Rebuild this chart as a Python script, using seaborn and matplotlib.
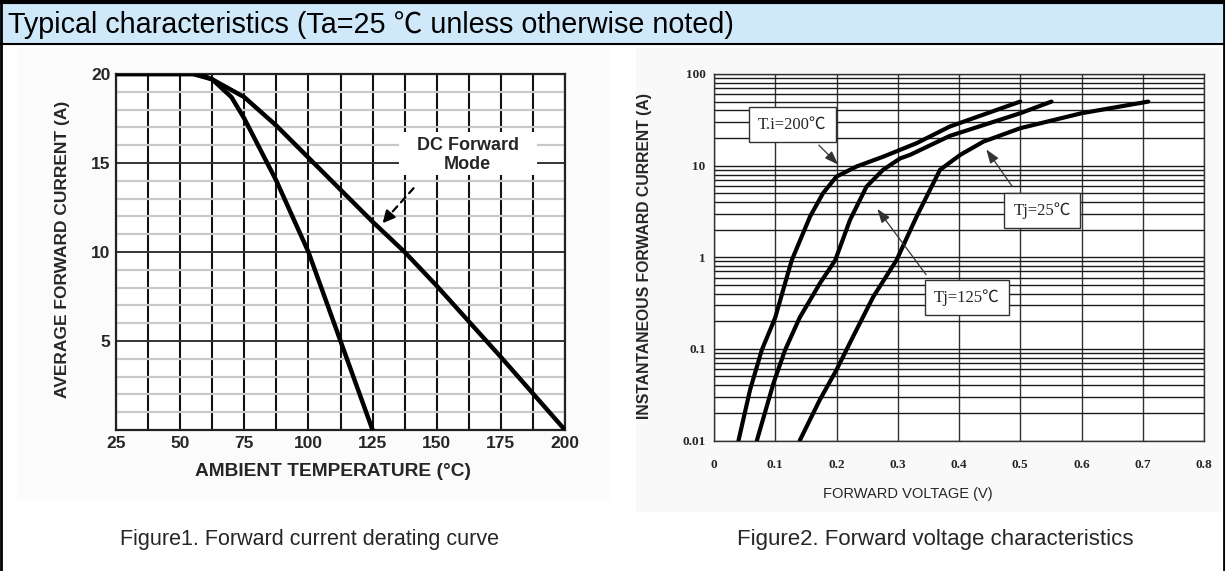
import matplotlib
matplotlib.use("Agg")
import matplotlib.pyplot as plt
import seaborn as sns
import pandas as pd
from matplotlib.patches import Rectangle
from matplotlib.lines import Line2D
from matplotlib.ticker import FixedLocator, NullFormatter, LogLocator

# ---------------- data ----------------
# Figure 1: derating curves (ambient temperature degC -> average forward current A)
temp_steep = [25, 57.5, 62.5, 70, 75, 87.5, 100, 112.5, 125]
curr_steep = [20, 20, 19.7, 18.7, 17.5, 14.0, 10.0, 5.0, 0.0]
temp_dc = [25, 55, 62.5, 75, 87.5, 100, 112.5, 125, 137.5, 150, 162.5, 175, 187.5, 200]
curr_dc = [20, 20, 19.7, 18.7, 17.1, 15.3, 13.5, 11.7, 10.0, 8.1, 6.1, 4.1, 2.05, 0.0]
x1_ticks = [25, 50, 75, 100, 125, 150, 175, 200]
y1_ticks = [5, 10, 15, 20]

# Figure 2: forward voltage (V) -> instantaneous forward current (A)
v_200 = [0.040, 0.059, 0.078, 0.100, 0.119, 0.127, 0.157, 0.178, 0.200, 0.233, 0.276, 0.331, 0.385, 0.500]
i_200 = [0.010, 0.036, 0.097, 0.22, 0.61, 0.93, 2.8, 5.0, 7.6, 9.8, 12.5, 17.6, 26.7, 50]
v_125 = [0.070, 0.097, 0.116, 0.140, 0.173, 0.198, 0.222, 0.249, 0.276, 0.304, 0.320, 0.385, 0.500, 0.551]
i_125 = [0.010, 0.042, 0.097, 0.22, 0.52, 0.93, 2.55, 5.9, 9.0, 12.0, 13.1, 21.1, 37.3, 50]
v_25 = [0.140, 0.173, 0.200, 0.227, 0.260, 0.298, 0.331, 0.369, 0.402, 0.440, 0.500, 0.600, 0.709]
i_25 = [0.010, 0.028, 0.059, 0.136, 0.37, 0.93, 2.8, 9.0, 13.1, 18.3, 25.6, 37.3, 50]
x2_ticks = [0, 0.1, 0.2, 0.3, 0.4, 0.5, 0.6, 0.7, 0.8]
x2_labels = ["0", "0.1", "0.2", "0.3", "0.4", "0.5", "0.6", "0.7", "0.8"]
y2_ticks = [0.01, 0.1, 1, 10, 100]
y2_labels = ["0.01", "0.1", "1", "10", "100"]

df1 = pd.concat([
    pd.DataFrame({"temp": temp_steep, "curr": curr_steep, "curve": "steep"}),
    pd.DataFrame({"temp": temp_dc, "curr": curr_dc, "curve": "dc"}),
])
df2 = pd.concat([
    pd.DataFrame({"v": v_200, "i": i_200, "tj": "200"}),
    pd.DataFrame({"v": v_125, "i": i_125, "tj": "125"}),
    pd.DataFrame({"v": v_25, "i": i_25, "tj": "25"}),
])

# ---------------- style ----------------
sns.set_theme(style="white")
SANS = ["Liberation Sans", "Noto Sans CJK SC", "DejaVu Sans"]
SERIF = ["Liberation Serif", "Noto Sans CJK SC", "DejaVu Serif"]
plt.rcParams["font.family"] = SANS

W, H = 1225, 571
fig = plt.figure(figsize=(W / 100, H / 100), dpi=100)
fig.patch.set_facecolor("white")

def fx(px):
    return px / W

def fy(py):
    return 1 - py / H

# pasted-image backgrounds (very light)
fig.add_artist(Rectangle((fx(17), fy(500)), fx(610) - fx(17), fy(48) - fy(500),
                         transform=fig.transFigure, fc="#fbfbfb", ec="none", zorder=0))
fig.add_artist(Rectangle((fx(636), fy(512)), fx(1222) - fx(636), fy(48) - fy(512),
                         transform=fig.transFigure, fc="#f9f9f9", ec="none", zorder=0))

# title band
fig.add_artist(Rectangle((0, fy(44)), 1, 44 / H, transform=fig.transFigure,
                         fc="#cfe9fb", ec="none", zorder=1))
fig.add_artist(Line2D([0, 1], [fy(1.5), fy(1.5)], transform=fig.transFigure, color="black", lw=3))
fig.add_artist(Line2D([0, 1], [fy(44), fy(44)], transform=fig.transFigure, color="black", lw=1.5))
fig.add_artist(Line2D([fx(1), fx(1)], [0, 1], transform=fig.transFigure, color="black", lw=2))
fig.add_artist(Line2D([fx(1223.5), fx(1223.5)], [0, 1], transform=fig.transFigure, color="black", lw=2))
fig.text(fx(8), fy(25), "Typical characteristics (Ta=25 \u2103 unless otherwise noted)",
         fontsize=20.7, family=SANS, ha="left", va="center", color="black")

# ---------------- Figure 1 ----------------
ax1 = fig.add_axes([fx(116), fy(430), (565 - 116) / W, (430 - 74) / H])
ax1.set_facecolor("white")
ax1.set_xlim(25, 200)
ax1.set_ylim(0, 20)
ax1.xaxis.set_major_locator(FixedLocator(x1_ticks))
ax1.yaxis.set_major_locator(FixedLocator(y1_ticks))
ax1.set_xticks([t + 12.5 for t in x1_ticks[:-1]], minor=True)
ax1.set_yticks([v for v in range(1, 20) if v % 5 != 0], minor=True)
ax1.set_xticklabels([str(t) for t in x1_ticks], fontsize=12.5, fontweight="bold", family=SANS)
ax1.set_yticklabels([str(t) for t in y1_ticks], fontsize=12.5, fontweight="bold", family=SANS)
ax1.tick_params(axis="both", which="both", length=0)
ax1.tick_params(axis="x", pad=4)
ax1.tick_params(axis="y", pad=4)
ax1.grid(which="minor", axis="y", color="#c9c9c9", lw=1.6)
ax1.grid(which="major", axis="y", color="#333333", lw=1.4)
ax1.grid(which="both", axis="x", color="#111111", lw=1.5)
ax1.set_axisbelow(True)
for s in ax1.spines.values():
    s.set_color("#222222")
    s.set_linewidth(1.6)

sns.lineplot(data=df1, x="temp", y="curr", units="curve", estimator=None, sort=False,
             color="black", lw=3.2, ax=ax1, legend=False, zorder=5)
ax1.set_xlabel("")
ax1.set_ylabel("")

# "DC Forward Mode" label box (white knock-out)
ax1.add_patch(Rectangle((135.3, 14.3), 189.0 - 135.3, 16.75 - 14.3, fc="white", ec="none", zorder=3))
ax1.text(162.0, 15.45, "DC Forward\nMode", ha="center", va="center", fontsize=13,
         fontweight="bold", family=SANS, linespacing=1.15, zorder=6)
ax1.annotate("", xy=(130.5, 11.9), xytext=(141.7, 13.7),
             arrowprops=dict(arrowstyle="-", color="black", lw=1.6, linestyle=(0, (3, 2.5))),
             zorder=6)
ax1.annotate("", xy=(128.2, 11.5), xytext=(131.5, 12.05),
             arrowprops=dict(arrowstyle="-|>,head_length=0.6,head_width=0.3", color="black", lw=1.6),
             zorder=6)

fig.text(fx(62), fy(249), "AVERAGE FORWARD CURRENT (A)", rotation=90, ha="center", va="center",
         fontsize=12.5, fontweight="bold", family=SANS)
fig.text(fx(333), fy(472), "AMBIENT TEMPERATURE (\u00b0C)", ha="center", va="center",
         fontsize=13.8, fontweight="bold", family=SANS)

# ---------------- Figure 2 ----------------
ax2 = fig.add_axes([fx(714), fy(440.5), (1204 - 714) / W, (440.5 - 74) / H])
ax2.set_facecolor("white")
ax2.set_yscale("log")
ax2.set_xlim(0, 0.8)
ax2.set_ylim(0.01, 100)
ax2.xaxis.set_major_locator(FixedLocator(x2_ticks))
ax2.yaxis.set_major_locator(FixedLocator(y2_ticks))
ax2.yaxis.set_minor_locator(LogLocator(base=10, subs=[2, 3, 4, 5, 6, 7, 8, 9]))
ax2.yaxis.set_minor_formatter(NullFormatter())
ax2.set_xticklabels(x2_labels, fontsize=9.5, fontweight="bold", family=SERIF)
ax2.set_yticklabels(y2_labels, fontsize=9.5, fontweight="bold", family=SERIF)
ax2.tick_params(axis="both", which="both", length=0)
ax2.tick_params(axis="x", pad=13)
ax2.tick_params(axis="y", pad=6)
ax2.grid(which="both", axis="y", color="#1a1a1a", lw=1.0)
ax2.grid(which="major", axis="x", color="#333333", lw=1.0)
ax2.set_axisbelow(True)
for s in ax2.spines.values():
    s.set_color("#333333")
    s.set_linewidth(1.0)

sns.lineplot(data=df2, x="v", y="i", units="tj", estimator=None, sort=False,
             color="black", lw=3.0, ax=ax2, legend=False, zorder=5)
ax2.set_xlabel("")
ax2.set_ylabel("")

def boxstyle():
    return dict(boxstyle="square,pad=0.55", fc="white", ec="#333333", lw=1.0)

ax2.text(0.128, 28.1, "T.i=200\u2103", ha="center", va="center", fontsize=12,
         family=SERIF, bbox=boxstyle(), zorder=7)
ax2.text(0.536, 3.24, "Tj=25\u2103", ha="center", va="center", fontsize=12,
         family=SERIF, bbox=boxstyle(), zorder=7)
ax2.text(0.413, 0.364, "Tj=125\u2103", ha="center", va="center", fontsize=12,
         family=SERIF, bbox=boxstyle(), zorder=7)
arrow = dict(arrowstyle="-|>,head_length=0.7,head_width=0.25", color="#333333", lw=0.9)
ax2.annotate("", xy=(0.206, 9.75), xytext=(0.168, 17.6), arrowprops=arrow, zorder=7)
ax2.annotate("", xy=(0.442, 15.9), xytext=(0.489, 5.66), arrowprops=arrow, zorder=7)
ax2.annotate("", xy=(0.264, 3.56), xytext=(0.349, 0.61), arrowprops=arrow, zorder=7)

fig.text(fx(645), fy(256), "INSTANTANEOUS FORWARD CURRENT (A)", rotation=90, ha="center",
         va="center", fontsize=11.3, fontweight="bold", family=SANS)
fig.text(fx(908), fy(494), "FORWARD VOLTAGE (V)", ha="center", va="center",
         fontsize=10.5, family=SANS)

# ---------------- captions ----------------
fig.text(fx(310), fy(540), "Figure1. Forward current derating curve", ha="center", va="center",
         fontsize=15.5, family=SANS)
fig.text(fx(935), fy(540), "Figure2. Forward voltage characteristics", ha="center", va="center",
         fontsize=16, family=SANS)

fig.savefig("out.png", dpi=100)
